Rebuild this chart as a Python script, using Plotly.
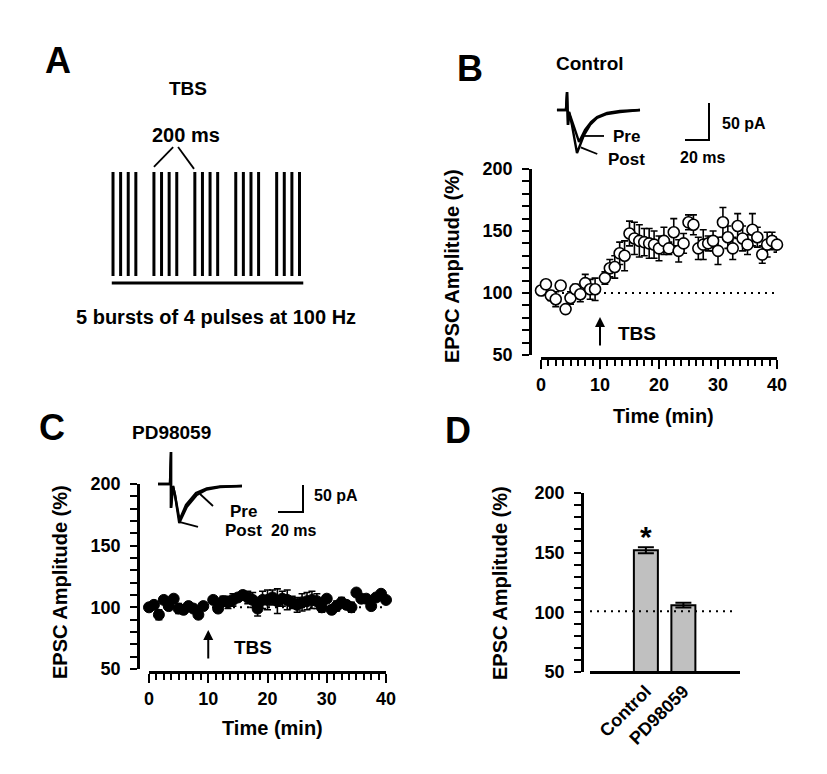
import plotly.graph_objects as go

# ---- data ----
# panel A: theta-burst schematic (5 bursts x 4 pulses)
burst_idx = [0, 1, 2, 3, 4]
pulse_idx = [0, 1, 2, 3]

# panel B / C: time course, one sweep every 50 s, sweep at 10 min (TBS) left out
time_min = [k * 50 / 60 for k in range(49) if k != 12]

ctrl_mean = [102, 107, 98, 95, 106, 87, 96, 103, 99, 108, 103, 103,
             112, 120, 121, 132, 130, 148, 144, 142, 141, 140, 139, 136,
             142, 136, 149, 134, 140, 157, 155, 136, 139, 140, 142, 134,
             157, 145, 136, 154, 144, 139, 151, 145, 131, 139, 142, 139]
ctrl_sem = [4, 3, 4, 6, 3, 3, 5, 4, 6, 7, 8, 9,
            5, 7, 9, 9, 12, 10, 13, 13, 11, 12, 11, 10,
            11, 5, 11, 9, 8, 6, 8, 9, 12, 6, 8, 11,
            12, 9, 9, 10, 10, 8, 13, 8, 7, 10, 7, 6]

pd_mean = [100, 102, 94, 106, 101, 107, 99, 98, 101, 99, 94, 101,
           106, 99, 105, 104, 106, 108, 110, 108, 106, 99, 106, 106,
           108, 105, 107, 106, 104, 102, 104, 105, 106, 105, 100, 107,
           98, 101, 104, 102, 100, 112, 107, 107, 101, 108, 111, 106]
pd_sem = [2, 2, 4, 2, 2, 2, 4, 3, 3, 2, 3, 2,
          2, 2, 4, 5, 5, 3, 3, 5, 6, 6, 7, 8,
          6, 10, 6, 8, 5, 6, 7, 7, 7, 6, 4, 2,
          3, 4, 4, 3, 4, 2, 3, 2, 2, 2, 2, 2]

# panel D: summary
groups = ["Control", "PD98059"]
group_mean = [152, 106]
group_sem = [2.5, 2]

# example EPSC traces (ms, pA)
b_post_ms = [5.8, 13.3, 14.2, 15.0, 15.8, 18.3, 22.5, 28.3, 33.3, 39.2, 47.5, 58.3, 75.0]
b_post_pa = [0, 0, 24.3, -20.3, -2.7, -20.3, -58.1, -33.8, -20.3, -10.8, -5.4, -2.7, 0]
b_pre_ms = [5.8, 13.3, 14.2, 15.0, 15.8, 19.2, 24.2, 29.2, 34.2, 39.2, 47.5, 58.3, 75.0]
b_pre_pa = [0, 0, 24.3, -20.3, -2.7, -20.3, -43.2, -27.0, -16.2, -9.5, -4.1, -1.4, 0]

c_post_ms = [6.4, 16.0, 16.8, 16.8, 18.4, 20.0, 23.4, 29.4, 37.4, 45.4, 56.0, 73.6]
c_post_pa = [0, 0, 59.3, -44.4, -3.7, -20.4, -72.2, -42.6, -20.4, -10.2, -5.6, -3.7]
c_pre_ms = [6.4, 16.0, 16.8, 16.8, 18.4, 20.0, 23.6, 28.8, 36.8, 45.4, 56.0, 73.6]
c_pre_pa = [0, 0, 59.3, -44.4, -3.7, -20.4, -66.7, -38.9, -16.7, -8.3, -4.6, -3.7]

scale_ms = 20
scale_pa = 50

# ---- layout helpers ----
W, H = 827, 774
FONT = "Liberation Sans, Arial, sans-serif"


def px(x):
    return x / W


def py(y):
    return 1 - y / H


fig = go.Figure()

# panel A pulses
xs, ys = [], []
for b in burst_idx:
    for p in pulse_idx:
        x = b + p * 0.186
        xs += [x, x, None]
        ys += [0, 1, None]
fig.add_trace(go.Scatter(x=xs, y=ys, mode="lines", line=dict(color="black", width=3),
                         xaxis="x", yaxis="y", hoverinfo="skip"))
fig.add_trace(go.Scatter(x=[-0.03, 4.65], y=[-0.067, -0.067], mode="lines",
                         line=dict(color="black", width=3), xaxis="x", yaxis="y"))
# bracket for 200 ms
fig.add_trace(go.Scatter(x=[1.0, 1.47, None, 1.59, 1.98], y=[1.05, 1.24, None, 1.24, 1.03],
                         mode="lines", line=dict(color="black", width=1.8), xaxis="x", yaxis="y"))

err_style = dict(type="data", thickness=1.6, width=3.5, color="black")

# panel B
fig.add_trace(go.Scatter(x=[0, 40], y=[100, 100], mode="lines",
                         line=dict(color="black", width=2, dash="2px,5px"), xaxis="x2", yaxis="y2"))
fig.add_trace(go.Scatter(x=time_min, y=ctrl_mean, mode="markers", cliponaxis=False,
                         error_y=dict(array=ctrl_sem, **err_style),
                         marker=dict(symbol="circle", size=11, color="white",
                                     line=dict(color="black", width=1.6)),
                         xaxis="x2", yaxis="y2"))

# panel C
fig.add_trace(go.Scatter(x=[0, 40], y=[100, 100], mode="lines",
                         line=dict(color="black", width=2, dash="2px,5px"), xaxis="x3", yaxis="y3"))
fig.add_trace(go.Scatter(x=time_min, y=pd_mean, mode="markers", cliponaxis=False,
                         error_y=dict(array=pd_sem, **err_style),
                         marker=dict(symbol="circle", size=11, color="black",
                                     line=dict(color="black", width=1)),
                         xaxis="x3", yaxis="y3"))

# panel D
fig.add_trace(go.Bar(x=groups, y=group_mean, base=0, width=0.64,
                     marker=dict(color="#c0c0c0", line=dict(color="black", width=2)),
                     error_y=dict(type="data", array=group_sem, visible=True, thickness=2,
                                  width=8, color="black"),
                     xaxis="x4", yaxis="y4", cliponaxis=False))
fig.add_trace(go.Scatter(x=[-1.49, 2.3], y=[101, 101], mode="lines",
                         line=dict(color="black", width=2, dash="2px,5px"), xaxis="x5", yaxis="y4"))

# inset traces B
for xx, yy in [(b_pre_ms, b_pre_pa), (b_post_ms, b_post_pa)]:
    fig.add_trace(go.Scatter(x=xx, y=yy, mode="lines", line=dict(color="black", width=2.4),
                             xaxis="x6", yaxis="y6"))
fig.add_trace(go.Scatter(x=[27.8, 45, None, 25.6, 39.4], y=[-35.1, -35.1, None, -50.4, -59.5],
                         mode="lines", line=dict(color="black", width=1.8), xaxis="x6", yaxis="y6"))
bx, by = 132.5, -40.5
fig.add_trace(go.Scatter(x=[bx - scale_ms, bx, bx], y=[by, by, by + scale_pa], mode="lines",
                         line=dict(color="black", width=2), xaxis="x6", yaxis="y6"))

# inset traces C
for xx, yy in [(c_pre_ms, c_pre_pa), (c_post_ms, c_post_pa)]:
    fig.add_trace(go.Scatter(x=xx, y=yy, mode="lines", line=dict(color="black", width=2.4),
                             xaxis="x7", yaxis="y7"))
fig.add_trace(go.Scatter(x=[40, 50.4, None, 24, 38.4], y=[-18.5, -40.7, None, -70.4, -79.6],
                         mode="lines", line=dict(color="black", width=1.8), xaxis="x7", yaxis="y7"))
cx, cy = 122.4, -51.9
fig.add_trace(go.Scatter(x=[cx - scale_ms, cx, cx], y=[cy, cy, cy + scale_pa], mode="lines",
                         line=dict(color="black", width=2), xaxis="x7", yaxis="y7"))

tickfont = dict(family=FONT, size=18, color="black", weight="bold")
hidden = dict(visible=False, showgrid=False, zeroline=False, automargin=False)


def yax(dom, pos):
    return dict(domain=dom, range=[50, 200], anchor="free", position=pos, automargin=False,
                showline=True, linewidth=2.5, linecolor="black",
                ticks="outside", tickvals=[50, 100, 150, 200], ticklen=7, tickwidth=2,
                tickcolor="black", tickfont=tickfont, ticklabelstandoff=6,
                minor=dict(dtick=10, ticks="outside", ticklen=7, tickwidth=2, tickcolor="black"),
                showgrid=False, zeroline=False)


def xax(dom, pos):
    return dict(domain=dom, range=[0, 40], anchor="free", position=pos, automargin=False,
                showline=True, linewidth=2.5, linecolor="black",
                ticks="outside", tickvals=[0, 10, 20, 30, 40], ticklen=9, tickwidth=2,
                tickcolor="black", tickfont=tickfont, ticklabelstandoff=1,
                minor=dict(dtick=1.25, ticks="outside", ticklen=6, tickwidth=2, tickcolor="black"),
                showgrid=False, zeroline=False)


fig.update_layout(
    template="none",
    width=W, height=H, margin=dict(l=0, r=0, t=0, b=0, pad=0), autosize=False,
    paper_bgcolor="white", plot_bgcolor="rgba(0,0,0,0)", showlegend=False,
    font=dict(family=FONT, color="black"),
    xaxis=dict(domain=[px(100), px(320)], range=[-0.318, 5.059], anchor="y", **hidden),
    yaxis=dict(domain=[py(300), py(130)], range=[-0.2308, 1.4038], anchor="x", **hidden),
    xaxis2=xax([px(541), px(777)], py(358)),
    yaxis2=yax([py(355), py(169)], px(530)),
    xaxis3=xax([px(149), px(386)], py(672)),
    yaxis3=yax([py(669), py(484)], px(138)),
    xaxis4=dict(domain=[px(590), px(740)], range=[-1.49, 2.51], type="category",
                anchor="free", position=py(672), showline=True, linewidth=2.5, automargin=False,
                linecolor="black", ticks="", tickangle=-45, tickfont=tickfont,
                showgrid=False, zeroline=False),
    xaxis5=dict(domain=[px(590), px(740)], range=[-1.49, 2.51], anchor="y4",
                overlaying="x4", **hidden),
    yaxis4=yax([py(672), py(493)], px(582)),
    xaxis6=dict(domain=[px(550), px(720)], range=[0, 141.67], anchor="y6", **hidden),
    yaxis6=dict(domain=[py(165), py(88)], range=[-74.3, 29.7], anchor="x6", **hidden),
    xaxis7=dict(domain=[px(150), px(330)], range=[0, 144], anchor="y7", **hidden),
    yaxis7=dict(domain=[py(540), py(445)], range=[-103.7, 72.2], anchor="x7", **hidden),
)


def label(text, x, y, size, xanchor="center", angle=0):
    fig.add_annotation(text=text, x=px(x), y=py(y), xref="paper", yref="paper",
                       showarrow=False, xanchor=xanchor, yanchor="middle", textangle=angle,
                       font=dict(family=FONT, size=size, color="black", weight="bold"))


label("A", 58, 61, 36)
label("B", 470, 68, 36)
label("C", 52, 428, 36)
label("D", 458, 430, 36)
label("TBS", 188, 88, 19)
label("200 ms", 186, 135, 20)
label("5 bursts of 4 pulses at 100 Hz", 216, 317, 20)
label("Control", 590, 63, 19)
label("PD98059", 171, 432, 19)
label("Pre", 611, 137, 17, "left")
label("Post", 606, 159, 17, "left")
label("50 pA", 720, 123, 16, "left")
label("20 ms", 702, 157, 16)
label("Pre", 228, 511, 17, "left")
label("Post", 223, 530, 17, "left")
label("50 pA", 312, 495, 16, "left")
label("20 ms", 293, 530, 16)
label("EPSC Amplitude (%)", 452, 266, 20, angle=-90)
label("Time (min)", 663, 416, 20)
label("EPSC Amplitude (%)", 60, 582, 20, angle=-90)
label("Time (min)", 272, 728, 20)
label("EPSC Amplitude (%)", 500, 583, 20, angle=-90)
label("TBS", 637, 333, 19)
label("TBS", 253, 647, 19)
label("*", 646, 536, 30)

# TBS arrows
for xr, yr, tip, tail in [("x2", "y2", 80.6, 56.5), ("x3", "y3", 81.6, 57.3)]:
    fig.add_annotation(x=10, y=tip, ax=10, ay=tail, xref=xr, yref=yr, axref=xr, ayref=yr,
                       text="", showarrow=True, arrowhead=2, arrowsize=1, arrowwidth=2,
                       arrowcolor="black")

fig.write_html("out.html", config={"displayModeBar": False},
               post_script="document.body.style.margin='0';")
